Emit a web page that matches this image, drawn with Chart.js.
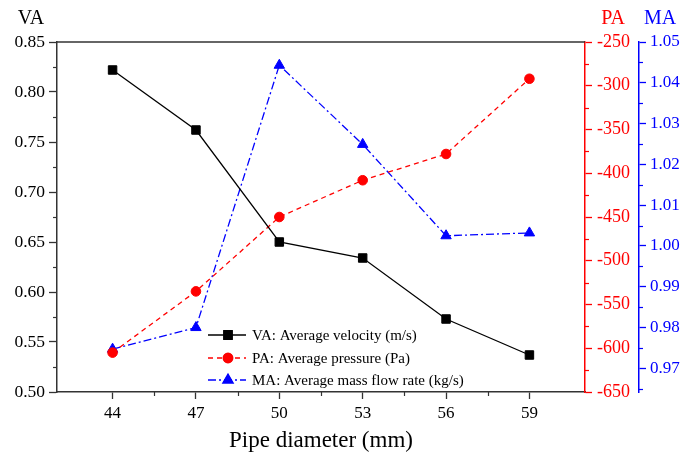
<!DOCTYPE html>
<html>
<head>
<meta charset="utf-8">
<script src="https://cdn.jsdelivr.net/npm/chart.js@4.4.1/dist/chart.umd.min.js"></script>
<style>
  body { margin: 0; background: #fff; }
  canvas { display: block; }
</style>
</head>
<body>
<canvas id="myChart" width="684" height="458"></canvas>
<script>
var diameters = [44, 47, 50, 53, 56, 59];
var velocity = [0.822, 0.762, 0.650, 0.634, 0.573, 0.537];
var pressure = [-605, -535, -450, -408, -378, -292];
var massFlow = [0.9747, 0.9800, 1.0443, 1.0249, 1.0025, 1.0032];
var maTicks = [0.97, 0.98, 0.99, 1.00, 1.01, 1.02, 1.03, 1.04, 1.05];
var legendLabels = ['VA: Average velocity (m/s)', 'PA: Average pressure (Pa)', 'MA: Average mass flow rate (kg/s)'];

var serif = "'Liberation Serif', 'Times New Roman', serif";
var RED = '#ff0000';
var BLUE = '#0000ff';
var AXIS = '#333333';

function pts(ys) {
    return diameters.map(function (d, i) { return { x: d, y: ys[i] }; });
}
function range(a, b, step) {
    var out = [];
    for (var v = a; v <= b + step / 1000; v += step) out.push(+v.toFixed(6));
    return out;
}

var extras = {
    id: 'extras',
    afterDraw: function (chart) {
        var ctx = chart.ctx;
        var area = chart.chartArea;
        var s = chart.scales;
        ctx.save();

        // top frame
        ctx.strokeStyle = AXIS;
        ctx.lineWidth = 1.5;
        ctx.beginPath();
        ctx.moveTo(area.left, area.top);
        ctx.lineTo(area.right, area.top);
        ctx.stroke();

        // minor ticks
        ctx.lineWidth = 1.2;
        function minorY(scale, vals, color, x, dir) {
            ctx.strokeStyle = color;
            vals.forEach(function (v) {
                var y = Math.round(scale.getPixelForValue(v)) + 0.5;
                ctx.beginPath();
                ctx.moveTo(x, y);
                ctx.lineTo(x + dir * 4, y);
                ctx.stroke();
            });
        }
        minorY(s.y, range(0.525, 0.825, 0.05), AXIS, s.y.right, -1);
        minorY(s.y1, range(-625, -275, 50), RED, s.y1.left, 1);
        minorY(s.y2, range(0.965, 1.045, 0.01), BLUE, s.y2.left, 1);
        ctx.strokeStyle = AXIS;
        range(45.5, 57.5, 3).forEach(function (v) {
            var x = Math.round(s.x.getPixelForValue(v)) + 0.5;
            ctx.beginPath();
            ctx.moveTo(x, s.x.top);
            ctx.lineTo(x, s.x.top + 4);
            ctx.stroke();
        });

        // axis titles
        ctx.textAlign = 'center';
        ctx.textBaseline = 'middle';
        ctx.font = '20px ' + serif;
        ctx.fillStyle = '#000';
        ctx.fillText('VA', 31, 19);
        ctx.fillStyle = RED;
        ctx.fillText('PA', 613, 19);
        ctx.fillStyle = BLUE;
        ctx.fillText('MA', 660, 19);
        ctx.fillStyle = '#000';
        ctx.font = '23px ' + serif;
        ctx.fillText('Pipe diameter (mm)', (area.left + area.right) / 2, 441);

        // legend
        ctx.textAlign = 'left';
        ctx.font = '15px ' + serif;
        var rows = [335, 358, 380];
        chart.data.datasets.forEach(function (ds, i) {
            var y = rows[i];
            ctx.strokeStyle = ds.borderColor;
            ctx.lineWidth = ds.borderWidth;
            ctx.setLineDash(ds.borderDash || []);
            ctx.beginPath();
            ctx.moveTo(208, y);
            ctx.lineTo(246, y);
            ctx.stroke();
            ctx.setLineDash([]);
            Chart.helpers.drawPoint(ctx, {
                pointStyle: ds.pointStyle,
                radius: ds.pointRadius,
                borderWidth: 1
            }, 228, y);
            ctx.fillStyle = ds.pointBackgroundColor;
            ctx.fill();
            ctx.fillStyle = '#000';
            ctx.fillText(legendLabels[i], 252, y + 1);
        });
        ctx.restore();
    }
};

var ctx1 = document.getElementById('myChart').getContext('2d');
var myChart = new Chart(ctx1, {
    type: 'line',
    data: {
        datasets: [
            {
                label: legendLabels[0],
                data: pts(velocity),
                yAxisID: 'y',
                borderColor: '#000',
                borderWidth: 1.3,
                pointStyle: 'rect',
                pointRadius: 6,
                pointBackgroundColor: '#000',
                pointBorderColor: '#000',
                pointBorderWidth: 1
            },
            {
                label: legendLabels[1],
                data: pts(pressure),
                yAxisID: 'y1',
                borderColor: RED,
                borderWidth: 1.3,
                borderDash: [5, 4],
                pointStyle: 'circle',
                pointRadius: 4.8,
                pointBackgroundColor: RED,
                pointBorderColor: RED,
                pointBorderWidth: 1
            },
            {
                label: legendLabels[2],
                data: pts(massFlow),
                yAxisID: 'y2',
                borderColor: BLUE,
                borderWidth: 1.3,
                borderDash: [8, 3, 2, 3],
                pointStyle: 'triangle',
                pointRadius: 6,
                pointBackgroundColor: BLUE,
                pointBorderColor: BLUE,
                pointBorderWidth: 1
            }
        ]
    },
    options: {
        responsive: false,
        animation: false,
        devicePixelRatio: 1,
        layout: { padding: { top: 42, left: 0, right: 0, bottom: 0 } },
        plugins: {
            legend: { display: false },
            tooltip: { enabled: false }
        },
        elements: { line: { tension: 0 } },
        scales: {
            x: {
                type: 'linear',
                min: 42,
                max: 61,
                afterBuildTicks: function (scale) {
                    scale.ticks = diameters.map(function (v) { return { value: v }; });
                },
                afterFit: function (scale) { scale.height = 66; },
                grid: { drawOnChartArea: false, tickLength: 7, tickColor: AXIS, tickWidth: 1.3 },
                border: { display: true, color: AXIS, width: 1.5 },
                ticks: { color: '#000', font: { family: serif, size: 17 }, padding: 4, maxRotation: 0 }
            },
            y: {
                position: 'left',
                min: 0.5,
                max: 0.85,
                afterFit: function (scale) { scale.width = 57; },
                grid: { drawOnChartArea: false, tickLength: 8, tickColor: AXIS, tickWidth: 1.3 },
                border: { display: true, color: AXIS, width: 1.5 },
                ticks: {
                    stepSize: 0.05,
                    color: '#000',
                    font: { family: serif, size: 17.5 },
                    padding: 4,
                    callback: function (v) { return v.toFixed(2); }
                }
            },
            y1: {
                position: 'right',
                min: -650,
                max: -250,
                afterFit: function (scale) { scale.width = 54; },
                grid: { drawOnChartArea: false, tickLength: 7, tickColor: RED, tickWidth: 1.3 },
                border: { display: true, color: RED, width: 1.5 },
                ticks: { stepSize: 50, color: RED, font: { family: serif, size: 18 }, padding: 5 }
            },
            y2: {
                position: 'right',
                min: 0.9642,
                max: 1.05,
                afterBuildTicks: function (scale) {
                    scale.ticks = maTicks.map(function (v) { return { value: v }; });
                },
                afterFit: function (scale) { scale.width = 45; },
                grid: { drawOnChartArea: false, tickLength: 7, tickColor: BLUE, tickWidth: 1.3 },
                border: { display: true, color: BLUE, width: 1.5 },
                ticks: {
                    color: BLUE,
                    font: { family: serif, size: 17 },
                    padding: 4,
                    callback: function (v) { return v.toFixed(2); }
                }
            }
        }
    },
    plugins: [extras]
});
</script>
</body>
</html>
